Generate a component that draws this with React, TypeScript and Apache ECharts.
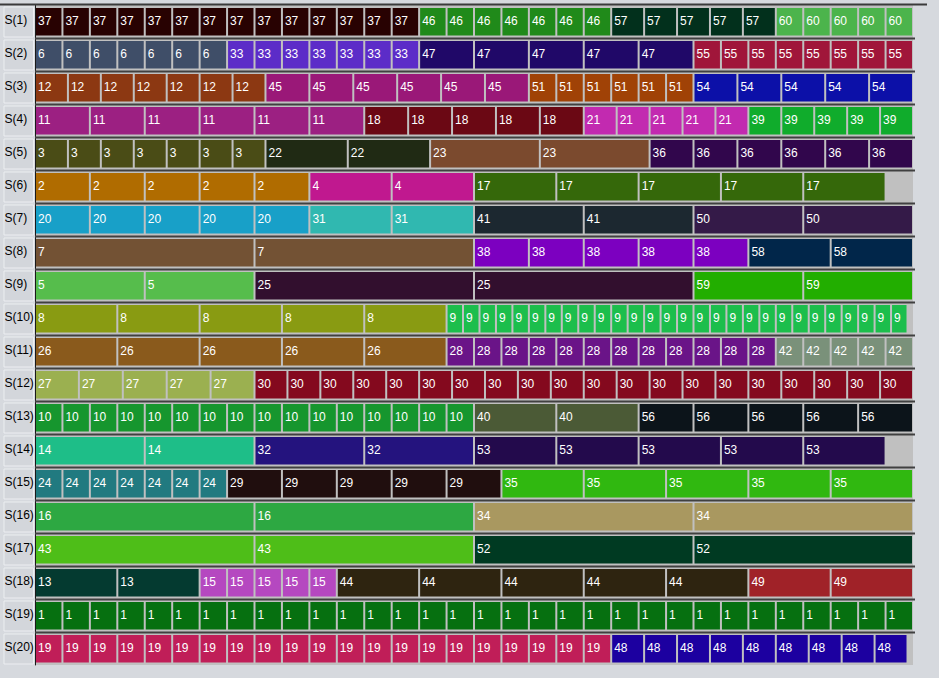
import React, { useEffect, useRef } from 'react';
import * as echarts from 'echarts';

// Row labels (machines / stages)
const rowLabels = [
  'S(1)', 'S(2)', 'S(3)', 'S(4)', 'S(5)', 'S(6)', 'S(7)', 'S(8)', 'S(9)', 'S(10)',
  'S(11)', 'S(12)', 'S(13)', 'S(14)', 'S(15)', 'S(16)', 'S(17)', 'S(18)', 'S(19)', 'S(20)',
];

// Each row: [job, number of consecutive blocks, duration of each block]
const S1 = [[37, 14, 1], [46, 7, 1], [57, 5, 1.2], [60, 5, 1]];
const S2 = [[6, 7, 1], [33, 7, 1], [47, 5, 2], [55, 8, 1]];
const S3 = [[12, 7, 1.2], [45, 6, 1.6], [51, 6, 1], [54, 5, 1.6]];
const S4 = [[11, 6, 2], [18, 5, 1.6], [21, 5, 1.2], [39, 5, 1.2]];
const S5 = [[3, 7, 1.2], [22, 2, 3], [23, 2, 4], [36, 6, 1.6]];
const S6 = [[2, 5, 2], [4, 2, 3], [17, 5, 3]];
const S7 = [[20, 5, 2], [31, 2, 3], [41, 2, 4], [50, 2, 4]];
const S8 = [[7, 2, 8], [38, 5, 2], [58, 2, 3]];
const S9 = [[5, 2, 4], [25, 2, 8], [59, 2, 4]];
const S10 = [[8, 5, 3], [9, 28, 0.6]];
const S11 = [[26, 5, 3], [28, 12, 1], [42, 5, 1]];
const S12 = [[27, 5, 1.6], [30, 20, 1.2]];
const S13 = [[10, 16, 1], [40, 2, 3], [56, 5, 2]];
const S14 = [[14, 2, 4], [32, 2, 4], [53, 5, 3]];
const S15 = [[24, 7, 1], [29, 5, 2], [35, 5, 3]];
const S16 = [[16, 2, 8], [34, 2, 8]];
const S17 = [[43, 2, 8], [52, 2, 8]];
const S18 = [[13, 2, 3], [15, 5, 1], [44, 5, 3], [49, 2, 3]];
const S19 = [[1, 32, 1]];
const S20 = [[19, 21, 1], [48, 9, 1.2]];

const rows = [S1, S2, S3, S4, S5, S6, S7, S8, S9, S10, S11, S12, S13, S14, S15, S16, S17, S18, S19, S20];

const timeMin = 0;
const timeMax = 32;

const jobColors: Record<number, string> = {
  1: '#067010', 2: '#b06c00', 3: '#4a4c16', 4: '#c0188f', 5: '#56bd4c',
  6: '#3f4e68', 7: '#735234', 8: '#899b12', 9: '#1cbe4c', 10: '#16962e',
  11: '#9c2082', 12: '#8c3812', 13: '#043a30', 14: '#1ebe88', 15: '#b548c0',
  16: '#2da842', 17: '#35680a', 18: '#6b0814', 19: '#c01e58', 20: '#18a0c8',
  21: '#c22ab0', 22: '#202a14', 23: '#7b4a2e', 24: '#217a80', 25: '#320f2e',
  26: '#8a5a1c', 27: '#9bb050', 28: '#6a1488', 29: '#200e0e', 30: '#84091e',
  31: '#30b8b0', 32: '#24137e', 33: '#5c2cc8', 34: '#a99860', 35: '#30b810',
  36: '#31064c', 37: '#280202', 38: '#7c00c0', 39: '#10ac2c', 40: '#4b5a36',
  41: '#1c2830', 42: '#7a917a', 43: '#4ebe18', 44: '#2e2410', 45: '#9a1878',
  46: '#208a1a', 47: '#200868', 48: '#1c00a0', 49: '#a02228', 50: '#341a48',
  51: '#a04206', 52: '#003a22', 53: '#230a4c', 54: '#0c10a8', 55: '#a0163a',
  56: '#0c141a', 57: '#02301c', 58: '#01264a', 59: '#22ae00', 60: '#4cb44c',
};

const FONT = '"Liberation Sans", Arial, sans-serif';

function buildBlocks() {
  const out: any[] = [];
  rows.forEach((segs, r) => {
    let t = 0;
    segs.forEach(([job, count, dur]) => {
      for (let k = 0; k < count; k++) {
        out.push({ value: [t, t + dur, r, job] });
        t += dur;
      }
    });
  });
  return out;
}

export default function App() {
  const ref = useRef<HTMLDivElement>(null);
  useEffect(() => {
    if (!ref.current) return;
    const chart = echarts.init(ref.current, null, { renderer: 'svg' });
    const blocks = buildBlocks();
    const option: any = {
      animation: false,
      backgroundColor: '#d6d9de',
      grid: { left: 35, right: 26, top: 5, bottom: 13, show: true, backgroundColor: '#c0c0c0', borderWidth: 0 },
      xAxis: { type: 'value', min: timeMin, max: timeMax, show: false },
      yAxis: {
        type: 'category',
        data: rowLabels,
        inverse: true,
        axisLabel: { show: false },
        axisTick: { show: false },
        splitLine: { show: false },
        axisLine: { show: true, lineStyle: { color: '#1a1a1a', width: 1 } },
      },
      series: [
        {
          type: 'custom',
          z: 2,
          clip: false,
          silent: true,
          data: rowLabels.map((_, i) => [i]),
          renderItem: (params: any, api: any) => {
            const i = api.value(0);
            const p = api.coord([timeMin, i]);
            const pe = api.coord([timeMax, i]);
            const h = api.size([0, 1])[1];
            const top = p[1] - h / 2;
            const children: any[] = [
              {
                type: 'rect',
                shape: { x: 4, y: top + 2, width: 29.5, height: h - 3 },
                style: { fill: '#d3d6db', stroke: '#eceef1', lineWidth: 1 },
              },
              {
                type: 'text',
                style: {
                  text: rowLabels[i], x: 4.5, y: p[1] - 2, fill: '#000',
                  fontSize: 12, fontFamily: FONT, verticalAlign: 'middle', align: 'left',
                },
              },
            ];
            if (i === 0) {
              children.push({
                type: 'rect',
                shape: { x: 0, y: top - 1.5, width: 927, height: 2 },
                style: { fill: '#3a3a3a' },
              });
            } else {
              children.push({
                type: 'rect',
                shape: { x: p[0], y: top - 0.5, width: pe[0] - p[0] + 2, height: 2 },
                style: { fill: '#404040' },
              });
            }
            return { type: 'group', children };
          },
        },
        {
          type: 'custom',
          z: 3,
          clip: false,
          data: blocks,
          renderItem: (params: any, api: any) => {
            const r = api.value(2);
            const s = api.coord([api.value(0), r]);
            const e = api.coord([api.value(1), r]);
            const h = api.size([0, 1])[1];
            const top = s[1] - h / 2;
            const job = api.value(3);
            return {
              type: 'group',
              children: [
                {
                  type: 'rect',
                  shape: { x: s[0] + 1, y: top + 3, width: e[0] - s[0] - 2, height: h - 5.5 },
                  style: { fill: jobColors[job] },
                },
                {
                  type: 'text',
                  style: {
                    text: String(job), x: s[0] + 3, y: s[1] - 0.5, fill: '#ffffff',
                    fontSize: 12, fontFamily: FONT, verticalAlign: 'middle', align: 'left',
                  },
                },
              ],
            };
          },
        },
      ],
    };
    chart.setOption(option);
    return () => chart.dispose();
  }, []);
  return (
    <div
      ref={ref}
      style={{ position: 'fixed', left: 0, top: 0, width: 939, height: 678, background: '#d6d9de' }}
    />
  );
}
